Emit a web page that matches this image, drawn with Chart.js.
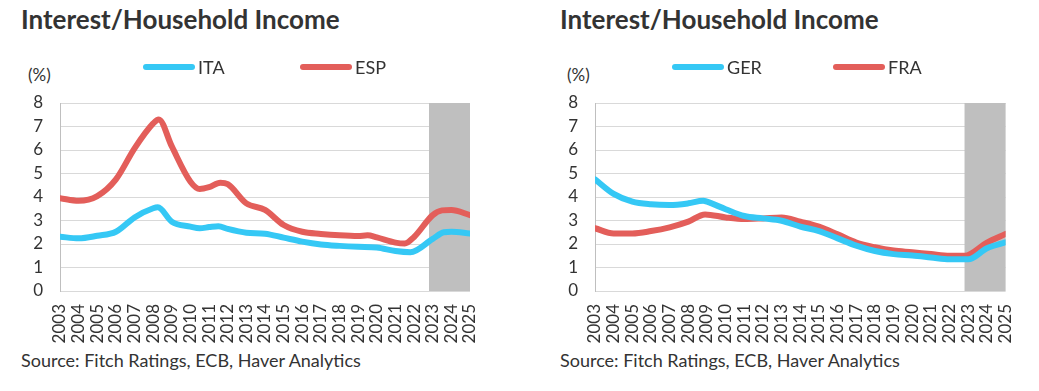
<!DOCTYPE html>
<html>
<head>
<meta charset="utf-8">
<script src="https://cdn.jsdelivr.net/npm/chart.js@4"></script>
<style>
 body { margin:0; background:#fff; width:1039px; height:391px; position:relative; overflow:hidden; font-family:Lato, sans-serif; color:#333; }
 canvas { position:absolute; top:0; }
 .title { position:absolute; top:4px; font-weight:bold; font-size:26px; line-height:1.2; }
 .unit { position:absolute; top:65px; font-size:17px; line-height:1.2; }
 .source { position:absolute; top:350px; font-size:18px; line-height:1.2; }
</style>
</head>
<body>
<div class="title" style="left:21px">Interest/Household Income</div>
<div class="unit" style="left:28px">(%)</div>
<div class="source" style="left:21px">Source: Fitch Ratings, ECB, Haver Analytics</div>
<canvas id="left" width="520" height="391" style="left:0"></canvas>

<div class="title" style="left:560px">Interest/Household Income</div>
<div class="unit" style="left:567px">(%)</div>
<div class="source" style="left:560px">Source: Fitch Ratings, ECB, Haver Analytics</div>
<canvas id="right" width="519" height="391" style="left:520px"></canvas>

<script>
// data (x = year, fractional where the curve turns)
var itaYears = [2003,2004,2005,2006,2007,2008,2008.25,2009,2010,2010.5,2011,2011.5,2012,2013,2014,2015,2016,2017,2018,2019,2020,2021,2021.8,2023,2023.6,2024,2025];
var itaValues = [2.31,2.24,2.35,2.52,3.13,3.52,3.56,2.95,2.74,2.67,2.72,2.76,2.64,2.48,2.44,2.27,2.10,1.98,1.92,1.88,1.85,1.70,1.65,2.22,2.50,2.52,2.45];

var espYears = [2003,2004,2005,2006,2007,2008,2008.3,2009,2010,2010.5,2011,2011.6,2012,2013,2014,2015,2016,2017,2018,2019,2019.5,2020,2021,2021.5,2022,2023,2023.5,2024,2025];
var espValues = [3.95,3.84,4.04,4.75,6.07,7.13,7.30,6.15,4.65,4.34,4.42,4.61,4.55,3.73,3.45,2.81,2.52,2.43,2.37,2.34,2.37,2.28,2.06,2.02,2.30,3.23,3.43,3.45,3.23];

var gerYears = [2003,2004,2005,2006,2007,2008,2008.8,2009,2010,2011,2012,2013,2014,2015,2016,2017,2018,2019,2020,2021,2022,2023,2024,2025];
var gerValues = [4.75,4.13,3.80,3.69,3.66,3.73,3.84,3.80,3.48,3.19,3.09,2.99,2.74,2.55,2.24,1.93,1.70,1.57,1.51,1.43,1.35,1.35,1.82,2.07];

var fraYears = [2003,2004,2005,2006,2007,2008,2008.9,2010,2011,2012,2013,2014,2015,2016,2017,2018,2019,2020,2021,2022,2022.8,2024,2025];
var fraValues = [2.67,2.45,2.45,2.55,2.71,2.95,3.26,3.13,3.06,3.09,3.13,2.95,2.74,2.41,2.06,1.86,1.72,1.65,1.57,1.50,1.50,2.06,2.43];

var yearMin = 2003;
var yearMax = 2025;
var forecastStart = 2022.8;

var blue = '#35C8F5';
var red = '#E35E5A';
var textColor = '#333333';

function points(xs, ys) {
  var out = [];
  for (var i = 0; i < xs.length; i++) out.push({x: xs[i], y: ys[i]});
  return out;
}

// grey forecast band, drawn over the grid but under the lines
var bandPlugin = {
  id: 'band',
  beforeDatasetsDraw: function (chart) {
    var x = chart.scales.x, a = chart.chartArea, ctx = chart.ctx;
    var x0 = x.getPixelForValue(forecastStart), x1 = x.getPixelForValue(yearMax);
    ctx.save();
    ctx.fillStyle = '#BFBFBF';
    ctx.fillRect(x0, a.top, x1 - x0, a.bottom - a.top);
    ctx.restore();
  }
};

// legend with long round-capped line samples
var legendPlugin = {
  id: 'lineLegend',
  afterDraw: function (chart, args, opts) {
    var ctx = chart.ctx;
    ctx.save();
    chart.data.datasets.forEach(function (ds, i) {
      var lx = opts.xs[i], ly = opts.y;
      ctx.strokeStyle = ds.borderColor;
      ctx.lineWidth = 6;
      ctx.lineCap = 'round';
      ctx.beginPath();
      ctx.moveTo(lx + 3, ly);
      ctx.lineTo(lx + 49, ly);
      ctx.stroke();
      ctx.fillStyle = textColor;
      ctx.font = '18px Lato';
      ctx.textBaseline = 'middle';
      ctx.fillText(ds.label, lx + 55, ly + 1);
    });
    ctx.restore();
  }
};

function makeChart(id, names, xs1, ys1, xs2, ys2, axisWidth, padRight, legendXs) {
  return new Chart(document.getElementById(id), {
    type: 'line',
    data: {
      datasets: [
        {label: names[0], data: points(xs1, ys1), borderColor: blue},
        {label: names[1], data: points(xs2, ys2), borderColor: red}
      ]
    },
    options: {
      responsive: false,
      animation: false,
      layout: {padding: {top: 103, right: padRight, bottom: 0, left: 0}},
      elements: {
        point: {radius: 0},
        line: {borderWidth: 6, cubicInterpolationMode: 'monotone', borderCapStyle: 'round', borderJoinStyle: 'round'}
      },
      plugins: {
        legend: {display: false},
        tooltip: {enabled: false},
        lineLegend: {xs: legendXs, y: 67}
      },
      scales: {
        x: {
          type: 'linear', min: yearMin, max: yearMax,
          grid: {display: false, drawTicks: false},
          border: {display: false},
          ticks: {
            stepSize: 1, autoSkip: false, minRotation: 90, maxRotation: 90, padding: 13,
            color: textColor, font: {family: 'Lato', size: 17},
            callback: function (v) { return String(v); }
          },
          afterFit: function (s) { s.height = 100; }
        },
        y: {
          min: 0, max: 8,
          grid: {color: '#D9D9D9', lineWidth: 1, drawTicks: false},
          border: {display: true, color: '#BFBFBF'},
          ticks: {stepSize: 1, padding: 17, color: textColor, font: {family: 'Lato', size: 17}},
          afterFit: function (s) { s.width = axisWidth; }
        }
      }
    },
    plugins: [bandPlugin, legendPlugin]
  });
}

makeChart('left', ['ITA', 'ESP'], itaYears, itaValues, espYears, espValues, 60, 50, [143, 300]);
makeChart('right', ['GER', 'FRA'], gerYears, gerValues, fraYears, fraValues, 75, 32, [152, 313]);
</script>
</body>
</html>
